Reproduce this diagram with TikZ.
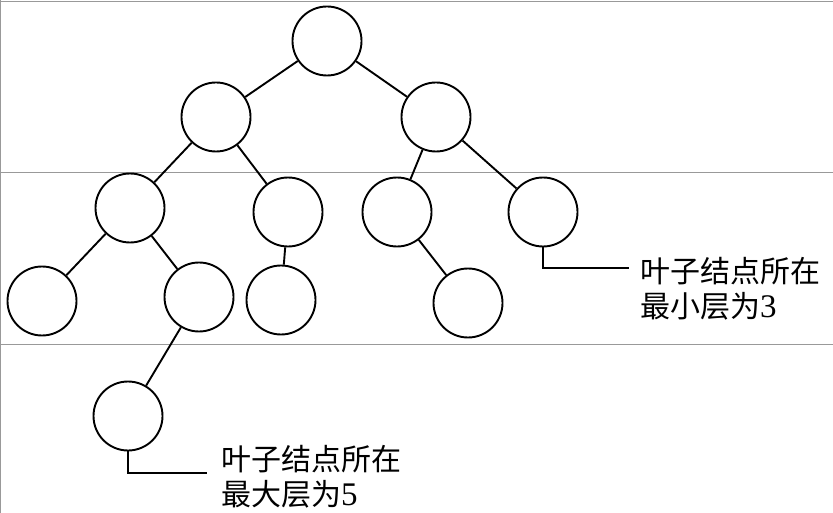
\documentclass[tikz,border=0pt]{standalone}
\usepackage{fontspec}
\setmainfont{Liberation Serif}
\newfontfamily\cjk{Noto Sans CJK SC}
\begin{document}
\begin{tikzpicture}[x=1pt,y=-1pt,
  tn/.style={circle,draw,line width=1.9pt,minimum size=69pt,inner sep=0pt},
  edge/.style={line width=1.9pt},
  band/.style={draw=gray!80,line width=0.8pt},
  lbl/.style={anchor=west,align=left,inner sep=0pt,font=\fontsize{30}{35}\selectfont}]
\useasboundingbox (0,0) rectangle (833,513);
\draw[band] (0,1) -- (833,1);
\draw[band] (0,172) -- (833,172);
\draw[band] (0,344) -- (833,344);
\draw[band] (0.5,0) -- (0.5,513);
\node[tn] (r) at (327,41) {};
\node[tn] (a) at (216,117) {};
\node[tn] (b) at (436,117) {};
\node[tn] (aa) at (130,208) {};
\node[tn] (ab) at (288,212) {};
\node[tn] (ba) at (397,212) {};
\node[tn] (bb) at (543,212) {};
\node[tn] (aaa) at (42,301) {};
\node[tn] (aab) at (199,297) {};
\node[tn] (aba) at (281,300) {};
\node[tn] (bab) at (468,303) {};
\node[tn] (aaba) at (128,416) {};
\draw[edge] (r) -- (a);
\draw[edge] (r) -- (b);
\draw[edge] (a) -- (aa);
\draw[edge] (a) -- (ab);
\draw[edge] (b) -- (ba);
\draw[edge] (b) -- (bb);
\draw[edge] (aa) -- (aaa);
\draw[edge] (aa) -- (aab);
\draw[edge] (ab) -- (aba);
\draw[edge] (ba) -- (bab);
\draw[edge] (aab) -- (aaba);
\coordinate (c1) at (629,268);
\coordinate (c2) at (207,473);
\draw[edge] (bb.south) |- (c1);
\draw[edge] (aaba.south) |- (c2);
\node[lbl] (t1) at (640,289) {{\cjk 叶子结点所在}\\{\cjk 最小层为}{\fontsize{33}{35}\selectfont 3}};
\node[lbl] (t2) at (221,477) {{\cjk 叶子结点所在}\\{\cjk 最大层为}{\fontsize{33}{35}\selectfont 5}};
\end{tikzpicture}
\end{document}
